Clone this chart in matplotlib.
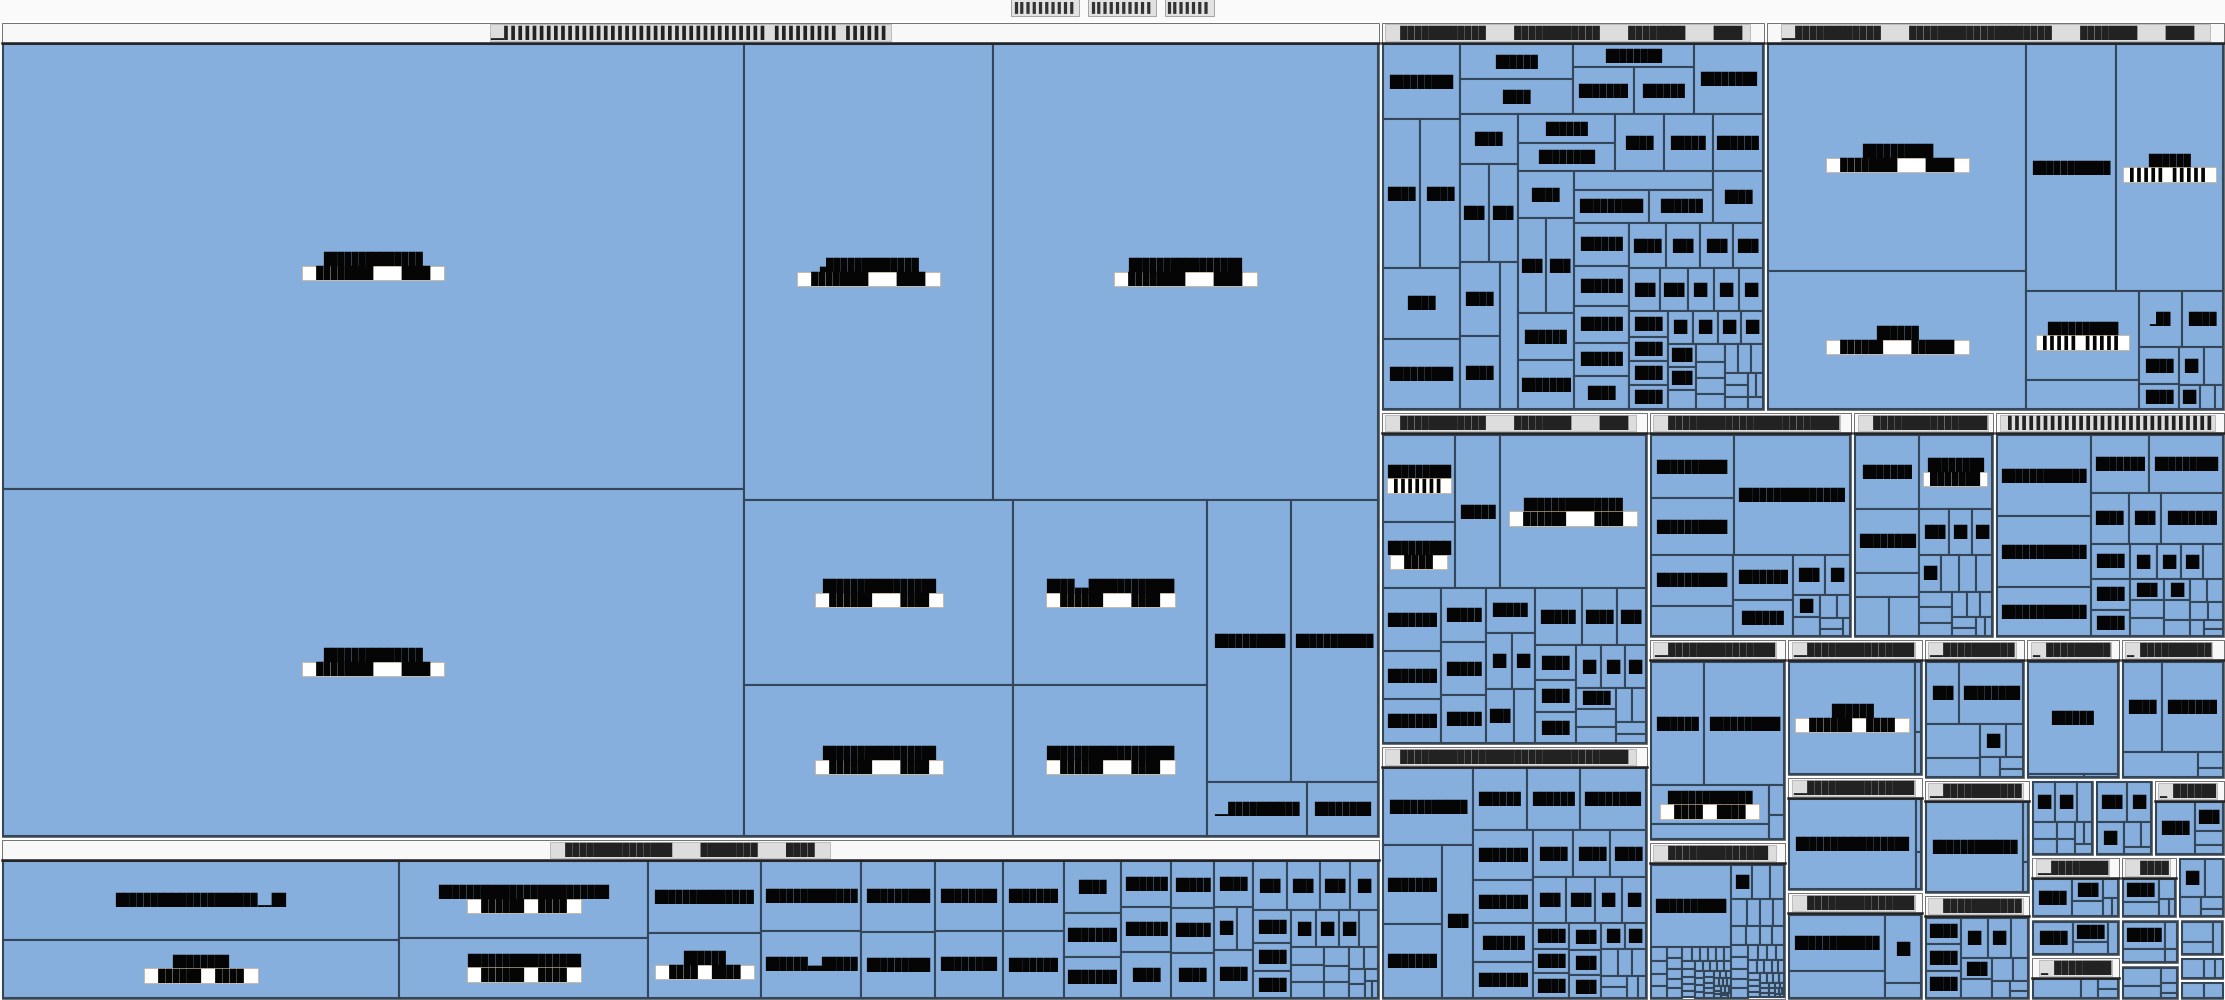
import matplotlib
matplotlib.use("Agg")
import matplotlib.pyplot as plt
from matplotlib.patches import Rectangle

B = "\u2588"   # full block, the labels in the picture are all solid cells
P = "\u258c"   # left half block (the striped labels)

# ---------------------------------------------------------------- data
# one list per group: a list inside is a strip of cells, a list inside a
# strip is a nested block, a tuple is a block left to the squarify step
g1 = [[342, 267], [118, 182], [51.6, 42.1], [37.2, 30.3], [24.5, 25.3], [5.5], [3.9]]
g2 = [[37.2, 27.4], [22.7, 17.8], [9.6, 8.7], [8.4, 8.0], [6.2, 5.8], [5.6, 5.4],
      [5.1, 4.8], [3.6, 3.0, 2.8], [2.7, 2.7, 2.7], [2.4, 2.3, 2.3], [2.1, [[1.2, 0.8]], 2.2],
      (2.0, 1.9, 1.8, 1.6, 1.5, 1.3, 1.2, 1.1, 1.0, 0.9, 0.8, 0.7, 0.65, 0.6, 0.55,
       0.5, 0.45, 0.4, 0.35, 0.3, 0.25, 0.2, 0.15, 0.1)]
g3 = [[6.3, [[6.1, 6.3]], 5.9, 5.9],
      [[[4.3, 4.4]], [[3.0, [[3.1], [3.1]]]], 5.3],
      [3.1, [[3.1, 3.1]], [[[[3.2], [3.2]], 2.9]]],
      [[[3.0, 3.0]], 3.0, 3.0, 3.1],
      [2.9, [[2.9, 2.9]], 2.9, 3.0],
      [[[2.8, [[2.7], [2.3]]]], 2.8],
      (2.6, 2.4, 2.2, 2.0, 2.0, 1.8, 1.7, 1.6, 1.5, 1.4, 1.3, 1.2, 1.2, 1.1, 1.1, 1.0,
       1.0, 1.0, 0.9, 0.9, 0.8, 0.8, 0.7, 0.7, 0.6, 0.6, 0.5, 0.5, 0.5, 0.4, 0.4, 0.4,
       0.3, 0.3, 0.3, 0.2, 0.2, 0.2)]
g4 = [[63.6, 38.6], [24.0, 28.5], [10.8, 3.6],
      (2.6, 2.5, 1.6, 1.1, 1.0, 0.75, 0.55, 0.4, 0.2)]
g5 = [[[[7.0], [5.3]], 7.6, 24.6], [4.1, 3.1, 2.8], [2.7, 2.6, 2.4],
      [2.4, [[1.6, 1.4]], [[1.7, 1.2]]],
      (3.0, 2.2, 1.8, 1.6, 1.5, 1.4, 1.2, 1.1, 1.0, 0.9, 0.8, 0.7, 0.6, 0.5, 0.4, 0.3)]
g6 = [[7.9, [[[[5.3], [4.9]], 5.5]]], [3.7, 3.7, 4.6],
      (3.4, 2.9, 2.6, 2.4, 2.2, 2.0, 1.9, 1.7, 1.5, 1.4, 1.2, 1.1, 1.0, 1.0, 1.0, 0.9,
       0.8, 0.7, 0.6, 0.5, 0.45, 0.4, 0.35, 0.3, 0.25, 0.2)]
g7 = [[[[6.1], [5.4]], 16.2], [4.9, 2.9], [3.1, 2.5],
      (1.5, 1.2, 0.7, 0.6, 0.45, 0.35, 0.3, 0.2, 0.15)]
g8 = [[5.5, 6.4], [4.8, 1.8, [[1.5], [1.4]]],
      (1.6, 1.2, 1.1, 0.9, 0.8, 0.7, 0.7, 0.6, 0.6, 0.5, 0.45, 0.4, 0.35, 0.3, 0.25, 0.2, 0.15)]
g9 = [[8.8, 7.7, 5.3], [3.9, 4.9], [2.2, 1.9, 3.6],
      (1.6, 1.4, 1.2, 1.1, 1.0, 0.9, 0.8, 0.8, 0.7, 0.7, 0.65, 0.6, 0.5, 0.45, 0.4, 0.35,
       0.3, 0.25, 0.2, 0.15)]
g10 = [[7.9, 11.7], [5.4, 2.2], (0.55, 0.45)]
g11_fine = (0.30, 0.27, 0.25, 0.23, 0.21, 0.20, 0.19, 0.18, 0.17, 0.16, 0.15, 0.14, 0.14,
            0.13, 0.13, 0.12, 0.12, 0.11, 0.11, 0.10, 0.10, 0.10, 0.09, 0.09, 0.09, 0.08,
            0.08, 0.08, 0.07, 0.07, 0.07, 0.06, 0.06, 0.06, 0.05, 0.05, 0.05, 0.05, 0.04,
            0.04, 0.04, 0.04, 0.03, 0.03, 0.03, 0.03, 0.02, 0.02, 0.02, 0.02)
g11_rest = (0.9, 0.75, 0.6, 0.5, 0.45, 0.4, 0.38, 0.35, 0.32, 0.3, 0.28, 0.26, 0.24, 0.22,
            0.2, 0.19, 0.18, 0.17, 0.16, 0.15, 0.14, 0.13, 0.12, 0.11, 0.10, 0.10, 0.09,
            0.09, 0.08, 0.08, 0.07, 0.07, 0.06, 0.06, 0.05, 0.05, 0.04, 0.04, 0.03, 0.03,
            0.03, 0.03, 0.02, 0.02, 0.02, 0.02)
g11 = [[8.2, g11_fine], g11_rest]
g12 = [[18.0], (0.5, 0.3)]
g13 = [[15.2], (0.35, 0.25)]
g14 = [[7.3, 3.5], (3.3, 0.7)]
g15 = [[2.7, 5.1], [2.4, 1.3], (1.1, 0.75, 0.5, 0.35, 0.25)]
g16 = [[11.8], (0.4, 0.2)]
g17 = [[1.3, 1.3, 1.3], (1.5, 1.3, 1.0, 0.9, 0.8, 0.65, 0.5, 0.4, 0.25, 0.15)]
g18 = [[12.9], (0.25, 0.15)]
g19 = [[4.6, 7.0], (2.4, 0.5, 0.3)]
h1 = [(1.0, 1.0, 0.7, 0.5, 0.4, 0.35, 0.3, 0.25, 0.2, 0.2)]
h2 = [(1.4, 1.1, 1.0, 0.5, 0.3, 0.2)]
h3 = [(3.2, 1.3, 0.6, 0.4)]
x1 = [(2.6, 1.2, 0.8, 0.5, 0.3, 0.2)]
x2 = [(1.6, 0.9, 0.5, 0.4)]
x3 = [(2.2, 0.8, 0.5, 0.4)]
x4 = [(1.5, 1.0, 0.6, 0.3, 0.2)]
x5 = [(1.2, 0.8, 0.5, 0.3, 0.2)]
x6 = [(1.4, 0.7, 0.4, 0.2)]
x7 = [(0.9, 0.6, 0.3, 0.2, 0.1)]
x8 = [(0.8, 0.5, 0.4)]
x9 = [(0.6, 0.3, 0.2)]
x10 = [(0.5, 0.4)]

# text (the picture only shows solid cells, so the labels are kept as cells)
title_words = [P * 10, P * 10, P * 7]
head_g1 = "\u2581\u2581" + P * 37 + " " + P * 9 + " " + P * 6
tag_a = "  " + B * 8 + "    " + B * 4 + "  "
tag_b = "  " + B * 6 + "    " + B * 4 + "  "
tag_c = "  " + B * 4 + "  " + B * 4 + "  "
tag_d = "  " + B * 6 + "  " + B * 4 + "  "
tag_e = " " + P * 5 + " " + P * 5 + " "
names_g1 = [B * 14, B * 14, "\u2583" + B * 13, B * 16, B * 16, B * 16,
            B * 4 + "\u2583\u2583" + B * 12, B * 18, B * 10, B * 12, "\u2581\u2581" + B * 10, B * 12]
tags_g1 = [tag_a, tag_a, tag_a, tag_a, tag_b, tag_b, tag_b, tag_b]
names_g2 = [B * 20 + "\u2581\u2581" + B * 2, B * 8, B * 24, B * 16, B * 16, B * 6, B * 16,
            B * 6 + "\u2583\u2583" + B * 6, B * 10, B * 12, B * 8, B * 8, B * 8, B * 8]
tags_g2 = [None, tag_d, tag_d, tag_d, None, tag_c]
names_g4 = [B * 10, B * 6, B * 12, B * 6, B * 10, None, "\u2581" + B * 2, B * 4]
tags_g4 = [tag_a, "  " + B * 6 + "    " + B * 6 + "  ", None, tag_e, tag_e]
names_g5 = [B * 10, B * 10, B * 6, B * 14, B * 10, B * 8, B * 8]
tags_g5 = [" " + P * 7 + " ", "  " + B * 4 + "  ", None, tag_b]
names_small = [B * 12, B * 6, B * 8, B * 4, B * 10, B * 6, B * 4, B * 8]

groups = {
    "g1": dict(data=g1, title=head_g1, names=names_g1, tags=tags_g1),
    "g2": dict(data=g2, title="  " + B * 15 + "    " + B * 8 + "    " + B * 4 + "  ",
               names=names_g2, tags=tags_g2),
    "g3": dict(data=g3, title="  " + B * 12 + "    " + B * 12 + "    " + B * 8 + "    " + B * 4 + "  "),
    "g4": dict(data=g4, title="\u2581\u2581" + B * 12 + "    " + B * 20 + "    " + B * 8 + "    " + B * 4 + "  ",
               names=names_g4, tags=tags_g4),
    "g5": dict(data=g5, title="  " + B * 12 + "    " + B * 8 + "    " + B * 4 + "  ",
               names=names_g5, tags=tags_g5),
    "g6": dict(data=g6, title="  " + B * 32 + "  ", names=[B * 12, B * 8, B * 8, B * 4, B * 6, B * 6, B * 8]),
    "g7": dict(data=g7, title="  " + B * 24 + "  ", names=[B * 10, B * 10, B * 16, B * 12, None, B * 8, B * 6]),
    "g8": dict(data=g8, title="  " + B * 16 + "  ", names=[B * 8, B * 8, B * 8, None, None, None],
               tags=[None, " " + B * 7 + " "]),
    "g9": dict(data=g9, title=" " + P * 30 + "  " + P * 16,
               names=[B * 12, B * 12, B * 12, B * 8, B * 12, B * 4, B * 4, B * 8]),
    "g10": dict(data=g10, title="\u2581\u2581" + B * 16, names=[B * 6, B * 10, B * 12, None],
                tags=[None, None, tag_c]),
    "g11": dict(data=g11, title="  " + B * 14 + "  ", names=[B * 10]),
    "g12": dict(data=g12, title="\u2581\u2581" + B * 16, names=[B * 6], tags=[tag_d]),
    "g13": dict(data=g13, title="\u2581\u2581" + B * 16, names=[B * 32]),
    "g14": dict(data=g14, title="  " + B * 18, names=[B * 12, None, B * 2, None]),
    "g15": dict(data=g15, title="\u2581\u2581" + B * 14, names=[B * 4, B * 8, None, None]),
    "g16": dict(data=g16, title="\u2581\u2581" + B * 18, names=[B * 26]),
    "g17": dict(data=g17, title="  " + B * 16, names=[B * 4, B * 4, B * 4]),
    "g18": dict(data=g18, title="\u2581 " + B * 14, names=[B * 6], tags=["  " + B * 8 + "  "]),
    "g19": dict(data=g19, title="\u2581 " + B * 14, names=[B * 4, B * 8, None]),
    "h1": dict(data=h1, title=""),
    "h2": dict(data=h2, title=""),
    "h3": dict(data=h3, title="\u2581 " + B * 10, names=[B * 10]),
    "x1": dict(data=x1, title="\u2581\u2581" + B * 10),
    "x2": dict(data=x2, title=""),
    "x3": dict(data=x3, title="\u2581 " + B * 8),
    "x4": dict(data=x4, title="  " + B * 8),
    "x5": dict(data=x5, title=""),
    "x6": dict(data=x6, title=""),
    "x7": dict(data=x7, title=""),
    "x8": dict(data=x8, title=""),
    "x9": dict(data=x9, title=""),
    "x10": dict(data=x10, title=""),
}
G = groups
top = [[G["g1"], G["g2"]], [G["g3"], G["g4"]], [G["g5"], G["g6"]],
       [G["g7"], G["g8"], G["g9"]], [G["g10"], G["g11"]], [G["g12"], G["g13"], G["g14"]],
       [G["g15"], G["g18"], G["g19"]], [G["g16"], G["g17"]], [G["h1"], G["h2"], G["h3"]],
       tuple(G[k] for k in ["x1", "x2", "x3", "x4", "x5", "x6", "x7", "x8", "x9", "x10"])]

# ---------------------------------------------------------------- layout
W, H = 2225, 1000
TOP = 21
HEAD = 20
FS = 8.6
CW = 0.602 * FS * 100 / 72
RATIO = (1 + 5 ** 0.5) / 2
MONO = "DejaVu Sans Mono"


def val(n):
    if isinstance(n, dict):
        return val(n["data"])
    if isinstance(n, (int, float)):
        return n
    return sum(val(c) for c in n)


def place(node, x, y, w, h, out):
    if isinstance(node, (int, float, dict)):
        out.append((x, y, w, h, node))
    elif isinstance(node, tuple):
        squarify(list(node), x, y, w, h, out)
    else:
        strips(node, x, y, w, h, out)


def strips(node, x, y, w, h, out):
    rem = val(node)
    for k, s in enumerate(node):
        sv = val(s)
        if isinstance(s, tuple):
            squarify(list(s), x, y, w, h, out)
            return
        if not isinstance(s, list):
            s = [s]
        last = k == len(node) - 1
        if w <= h:
            t = h if last else h * sv / rem
            cx = x
            for e in s:
                ew = w * val(e) / sv
                place(e, cx, y, ew, t, out)
                cx += ew
            y += t
            h -= t
        else:
            t = w if last else w * sv / rem
            cy = y
            for e in s:
                eh = h * val(e) / sv
                place(e, x, cy, t, eh, out)
                cy += eh
            x += t
            w -= t
        rem -= sv


def lay_row(row, s, L, rect, flush, out):
    t = s / L if L > 0 else 0
    if L == rect[2]:
        if flush or t > rect[3]:
            t = rect[3]
        cx, end = rect[0], rect[0] + rect[2]
        for j, (a, node) in enumerate(row):
            step = a / t if t > 0 else 0
            ew = end - cx if (j == len(row) - 1 or end - cx < step) else step
            place(node, cx, rect[1], ew, t, out)
            cx += ew
        rect[1] += t
        rect[3] -= t
    else:
        if flush or t > rect[2]:
            t = rect[2]
        cy, end = rect[1], rect[1] + rect[3]
        for j, (a, node) in enumerate(row):
            step = a / t if t > 0 else 0
            eh = end - cy if (j == len(row) - 1 or end - cy < step) else step
            place(node, rect[0], cy, t, eh, out)
            cy += eh
        rect[0] += t
        rect[2] -= t


def squarify(items, x, y, w, h, out):
    tot = sum(val(i) for i in items)
    if tot <= 0 or w <= 0 or h <= 0:
        return
    k = w * h / tot
    rect = [x, y, w, h]
    row, s, best = [], 0.0, float("inf")
    L = min(w, h)
    i = 0
    while i < len(items):
        if L <= 0:
            break
        a = val(items[i]) * k
        row.append((a, items[i]))
        s += a
        amax = max(r[0] for r in row)
        amin = min(r[0] for r in row)
        f = L * L * RATIO
        score = max(f * amax / (s * s), s * s / (f * amin))
        if score <= best:
            best = score
            i += 1
        else:
            row.pop()
            s -= a
            lay_row(row, s, L, rect, False, out)
            L = min(rect[2], rect[3])
            row, s, best = [], 0.0, float("inf")
    if row:
        lay_row(row, s, L, rect, True, out)


# ---------------------------------------------------------------- drawing
fig = plt.figure(figsize=(22.25, 10), dpi=100, facecolor="#fafafa")
ax = fig.add_axes([0, 0, 1, 1])
ax.set_xlim(0, W)
ax.set_ylim(H, 0)
ax.axis("off")
ax.add_patch(Rectangle((0, TOP), W, H - TOP, fc="white", ec="none"))

# title
TFS = 7.5
tcw = 0.602 * TFS * 100 / 72
tw = sum(len(t) for t in title_words) * tcw + 2 * 14
xx = W / 2 - tw / 2
for t in title_words:
    wd = len(t) * tcw
    ax.text(xx + wd / 2, 7, t, ha="center", va="center", fontsize=TFS, family=MONO,
            color="#333333", bbox=dict(boxstyle="square,pad=0.25", fc="#e2e2e2", ec="#999999", lw=0.6))
    xx += wd + 14


def label(x, y, w, h, name, tag):
    if not name or h < 20:
        return
    n = int((w - 6) / CW)
    if n < 2:
        return
    cx, cy = x + w / 2, y + h / 2
    nm = name[:n]
    if tag and h >= 34 and len(tag) * CW <= w - 4:
        ax.text(cx, cy - 7, nm, ha="center", va="center", fontsize=FS, family=MONO, color="#050505")
        ax.text(cx, cy + 7, tag, ha="center", va="center", fontsize=FS, family=MONO, color="#050505",
                bbox=dict(boxstyle="square,pad=0", fc="white", ec="#c8b08a", lw=0.5))
    else:
        ax.text(cx, cy, nm, ha="center", va="center", fontsize=FS, family=MONO, color="#050505")


cells = []
strips(top, 0, TOP, W, H - TOP, cells)
for gx, gy, gw, gh, grp in cells:
    ax.add_patch(Rectangle((gx + 1.5, gy + 1.5), gw - 3, gh - 3, fc="#f8f8f8", ec="#5a5a5a", lw=0.6))
    head = HEAD if grp["title"] else 0
    if head:
        ax.plot([gx + 1.5, gx + gw - 1.5], [gy + 1.5 + head] * 2, color="#222222", lw=1.8)
        t = grp["title"]
        n = int((gw - 12) / CW)
        if len(t) <= n:
            ax.text(gx + gw / 2, gy + 1.5 + head / 2, t, ha="center", va="center", fontsize=FS,
                    family=MONO, color="#222222",
                    bbox=dict(boxstyle="square,pad=0.08", fc="#dddddd", ec="#b5b5b5", lw=0.6))
        elif n > 1:
            ax.text(gx + 6, gy + 1.5 + head / 2, t[:n], ha="left", va="center", fontsize=FS,
                    family=MONO, color="#222222",
                    bbox=dict(boxstyle="square,pad=0.08", fc="#dddddd", ec="#b5b5b5", lw=0.6))
    leaves = []
    strips(grp["data"], gx + 2.5, gy + 3 + head, gw - 5, gh - 5.5 - head, leaves)
    names = grp.get("names", [])
    tags = grp.get("tags", [])
    for i, (x, y, w, h, v) in enumerate(leaves):
        ax.add_patch(Rectangle((x, y), w, h, fc="#87afdd", ec="#34465a", lw=1.5))
        name = names[i] if i < len(names) else names_small[i % len(names_small)]
        tag = tags[i] if i < len(tags) else None
        label(x, y, w, h, name, tag)

fig.savefig("out.png", dpi=100, facecolor=fig.get_facecolor())
